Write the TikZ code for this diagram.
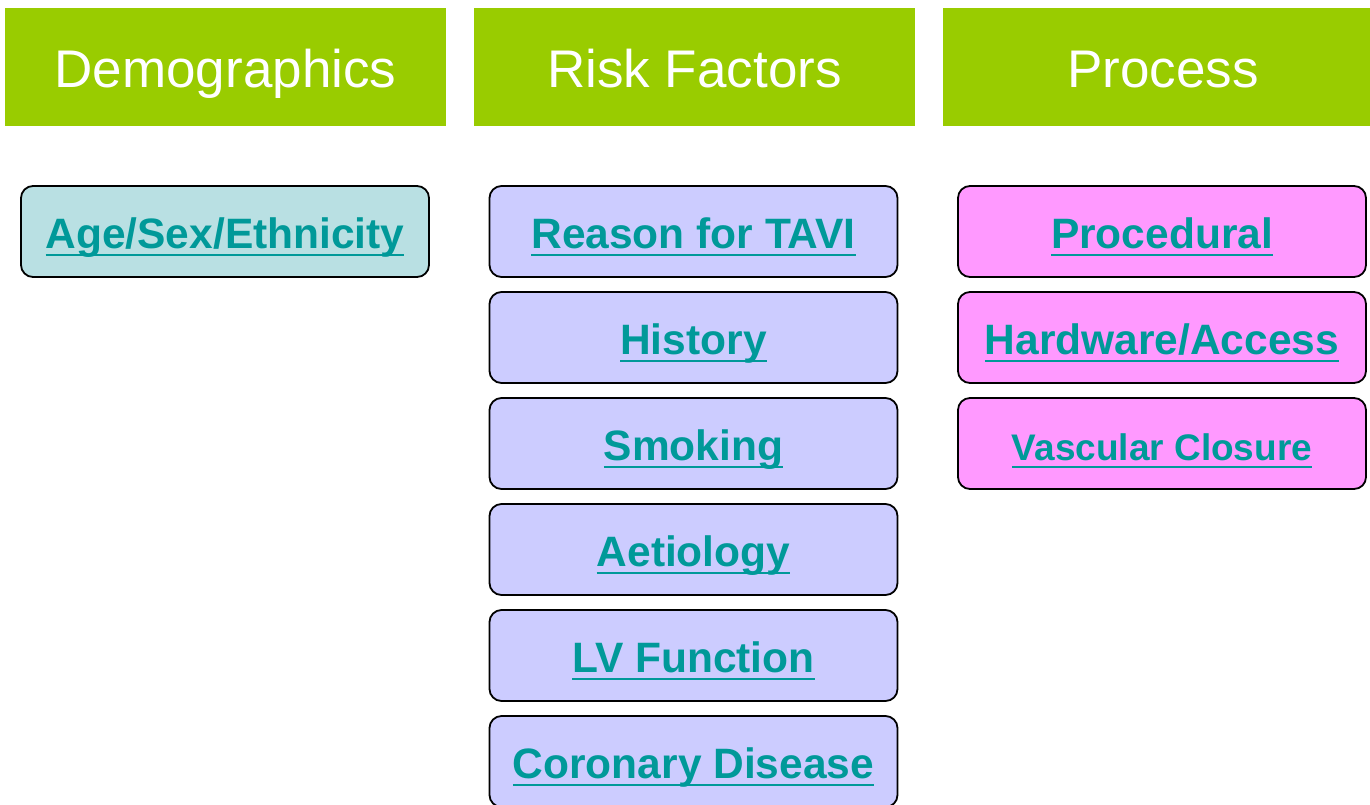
\documentclass[tikz,border=0pt]{standalone}
\usepackage{fontspec}
\setmainfont{Liberation Sans}
\usepackage{xcolor}
\definecolor{headgreen}{HTML}{99CC00}
\definecolor{linkteal}{HTML}{009999}
\definecolor{demofill}{HTML}{B9E0E3}
\definecolor{riskfill}{HTML}{CCCCFF}
\definecolor{procfill}{HTML}{FF99FF}
\newcommand{\linktext}[1]{\setbox0\hbox{#1}\rlap{\copy0}\rule[-8pt]{\wd0}{2.2pt}}

\begin{document}
\begin{tikzpicture}[x=1pt, y=-1pt,
  header/.style={fill=headgreen, text=white, inner sep=0pt,
    minimum width=441pt, minimum height=118pt,
    text height=40pt, text depth=0pt,
    font=\fontsize{53}{60}\selectfont},
  item/.style={draw=black, line width=1.8pt, rounded corners=12pt,
    inner sep=0pt, minimum width=408pt, minimum height=91pt,
    text height=45pt, text depth=12pt, text=linkteal,
    font=\fontsize{42.5}{48}\selectfont\bfseries}]
\useasboundingbox (0,0) rectangle (1370,804);
% column headers
\node[header] (demo) at (225.5,67) {Demographics};
\node[header] (risk) at (694.5,67) {Risk Factors};
\node[header] (proc) at (1163,67) {Process};
% demographics
\node[item, fill=demofill] (agesex) at (225,231.5) {\linktext{Age/Sex/Ethnicity}};
% risk factors
\node[item, fill=riskfill] (reason) at (693.5,231.5) {\linktext{Reason for TAVI}};
\node[item, fill=riskfill] (history) at (693.5,337.5) {\linktext{History}};
\node[item, fill=riskfill] (smoking) at (693.5,443.5) {\linktext{Smoking}};
\node[item, fill=riskfill] (aetiology) at (693.5,549.5) {\linktext{Aetiology}};
\node[item, fill=riskfill] (lvfunc) at (693.5,655.5) {\linktext{LV Function}};
\node[item, fill=riskfill] (coronary) at (693.5,761.5) {\linktext{Coronary Disease}};
% process
\node[item, fill=procfill] (procedural) at (1162,231.5) {\linktext{Procedural}};
\node[item, fill=procfill] (hardware) at (1162,337.5) {\linktext{Hardware/Access}};
\node[item, fill=procfill, font=\fontsize{37}{44}\selectfont\bfseries] (closure) at (1162,443.5) {\linktext{Vascular Closure}};
\end{tikzpicture}
\end{document}
